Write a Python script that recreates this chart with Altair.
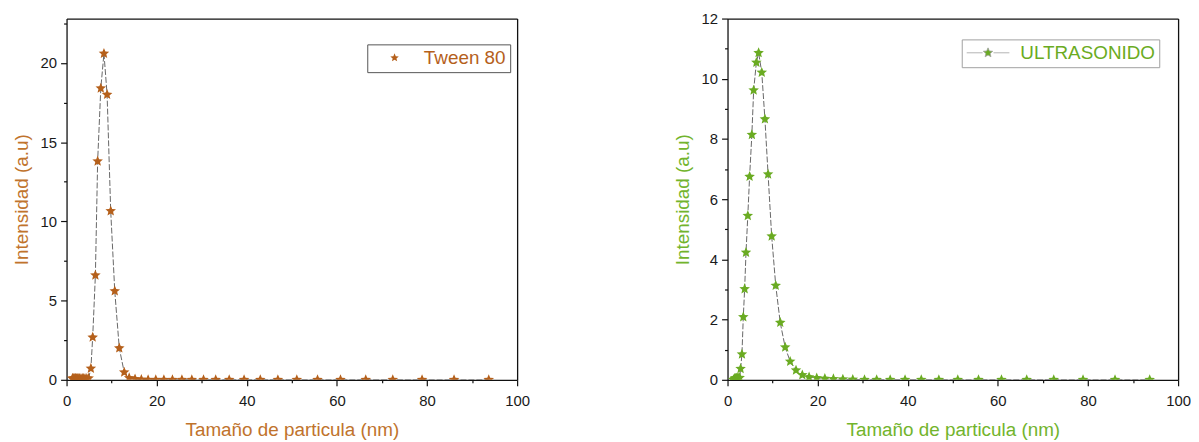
import altair as alt
import pandas as pd

# Particle size bins (nm)
sizes_nm = [1.3, 1.4, 1.6, 1.7, 1.9, 2.0, 2.2, 2.4, 2.7, 2.9, 3.2, 3.5, 3.8, 4.1, 4.5,
            4.9, 5.4, 5.8, 6.4, 6.9, 7.6, 8.3, 9.0, 9.8, 10.7, 11.7, 12.8, 13.9, 15.2,
            16.6, 18.1, 19.8, 21.6, 23.5, 25.6, 27.8, 30.4, 33.1, 36.1, 39.4, 43.0,
            46.9, 51.1, 55.7, 60.8, 66.4, 72.4, 78.9, 86.0, 93.7]

tween80 = [0.08, 0.08, 0.08, 0.08, 0.08, 0.08, 0.08, 0.08, 0.08, 0.08, 0.08, 0.08, 0.08, 0.08, 0.08,
           0.1, 0.72, 2.68, 6.6, 13.8, 18.4, 20.6, 18.0, 10.65, 5.6, 2.0, 0.48, 0.12, 0.05,
           0.02, 0.0, 0.0, 0.0, 0.0, 0.0, 0.0, 0.0, 0.0, 0.0, 0.0, 0.0,
           0.0, 0.0, 0.0, 0.0, 0.0, 0.0, 0.0, 0.0, 0.0]

ultrasonido = [0.0, 0.0, 0.04, 0.05, 0.05, 0.05, 0.06, 0.06, 0.07, 0.37, 0.85, 2.09, 3.02, 4.23, 5.45,
               6.75, 8.14, 9.62, 10.54, 10.86, 10.21, 8.66, 6.83, 4.77, 3.13, 1.9, 1.08, 0.61, 0.32,
               0.16, 0.09, 0.06, 0.04, 0.03, 0.02, 0.01, 0.0, 0.0, 0.0, 0.0, 0.0,
               0.0, 0.0, 0.0, 0.0, 0.0, 0.0, 0.0, 0.0, 0.0]

x_ticks = [0, 20, 40, 60, 80, 100]
x_minor = [10, 30, 50, 70, 90]
y_ticks_left = [0, 5, 10, 15, 20]
y_minor_left = [2.5, 7.5, 12.5, 17.5, 22.5]
y_ticks_right = [0, 2, 4, 6, 8, 10, 12]
y_minor_right = [1, 3, 5, 7, 9, 11]

x_title = "Tamaño de particula (nm)"
y_title = "Intensidad (a.u)"

BROWN = "#b5601b"
BROWN_TXT = "#c0732c"
GREEN = "#6aab22"
GREEN_TXT = "#72b42c"
FONT = "Liberation Sans"

# five-pointed star symbol (unit box -1..1)
STAR = ("M0,-1L0.265,-0.364L0.951,-0.309L0.428,0.139L0.588,0.809L0,0.45"
        "L-0.588,0.809L-0.428,0.139L-0.951,-0.309L-0.265,-0.364Z")
# legend symbol: star on a short line
STAR_LINE = "M-4.3,0L-1.1,0M1.1,0L4.3,0" + STAR

# two panels drawn side by side inside one layered view
PANEL_W, GAP, H = 454, 212, 364
TOTAL_W = 2 * PANEL_W + GAP
RIGHT0 = PANEL_W + GAP


def xs(x0):
    return alt.Scale(domain=[0, 100], range=[x0, x0 + PANEL_W], nice=False, zero=False)


def ys(ymax):
    return alt.Scale(domain=[0, ymax], nice=False)


def panel_layers(values, name, ymax, yticks, yminor, x0, mark_color, txt_color, legend):
    df = pd.DataFrame({"size": sizes_nm, "intensity": values, "serie": name})
    base = alt.Chart(df)
    y_off = -x0  # moves the left y axis to the panel's left edge
    # dashed connecting line; its axes draw the top and right edges of the frame
    line = base.mark_line(color="#555555", strokeWidth=0.9, strokeDash=[6, 2], clip=True).encode(
        x=alt.X("size:Q", scale=xs(x0),
                axis=alt.Axis(orient="top", labels=False, ticks=False, domain=True, grid=False, title=None)),
        y=alt.Y("intensity:Q", scale=ys(ymax),
                axis=alt.Axis(orient="right", offset=-(TOTAL_W - x0 - PANEL_W), labels=False,
                              ticks=False, domain=True, grid=False, title=None)),
    )
    # minor ticks
    minor = base.mark_point(opacity=0, size=1).encode(
        x=alt.X("size:Q", scale=xs(x0),
                axis=alt.Axis(orient="bottom", values=x_minor, labels=False, domain=False,
                              tickSize=3, grid=False, title=None)),
        y=alt.Y("intensity:Q", scale=ys(ymax),
                axis=alt.Axis(orient="left", offset=y_off, values=yminor, labels=False,
                              domain=False, tickSize=3, grid=False, title=None)),
    )
    # star markers with main axes and legend
    pts = base.mark_point(shape=STAR, filled=True, size=125, opacity=1, clip=True).encode(
        x=alt.X("size:Q", scale=xs(x0),
                axis=alt.Axis(orient="bottom", values=x_ticks, tickSize=6, labelFlush=False,
                              labelOverlap=False, labelPadding=8, title=x_title,
                              titleColor=txt_color, titlePadding=12, grid=False)),
        y=alt.Y("intensity:Q", scale=ys(ymax),
                axis=alt.Axis(orient="left", offset=y_off, values=yticks, tickSize=6,
                              labelOverlap=False, labelPadding=4, title=y_title,
                              titleColor=txt_color, titlePadding=9, grid=False)),
        color=alt.Color("serie:N", scale=alt.Scale(domain=[name], range=[mark_color]),
                        legend=alt.Legend(**legend)),
    )
    return [line, minor, pts]


legend_left = dict(
    title=None,
    orient="none",
    legendX=303,
    legendY=26,
    symbolType=STAR,
    symbolSize=80,
    symbolOpacity=1,
    symbolOffset=14,
    labelOffset=20,
    labelFontSize=19,
    labelFont=FONT,
    labelColor=BROWN,
    strokeColor="#555555",
    padding=4,
)

legend_right = dict(
    title=None,
    orient="none",
    legendX=RIGHT0 + 236,
    legendY=21,
    symbolType=STAR_LINE,
    symbolSize=100,
    symbolOpacity=1,
    symbolStrokeColor="#a0a0a0",
    symbolStrokeWidth=0.8,
    symbolOffset=13,
    labelOffset=23,
    labelFontSize=19,
    labelFont=FONT,
    labelColor=GREEN,
    strokeColor="#a0a0a0",
    padding=4,
)

layers = (
    panel_layers(tween80, "Tween 80", 22.8, y_ticks_left, y_minor_left, 0,
                 BROWN, BROWN_TXT, legend_left)
    + panel_layers(ultrasonido, "ULTRASONIDO", 12, y_ticks_right, y_minor_right, RIGHT0,
                   GREEN, GREEN_TXT, legend_right)
)

chart = (
    alt.layer(*layers)
    .resolve_scale(x="independent", y="independent", color="independent")
    .resolve_axis(x="independent", y="independent")
    .properties(width=TOTAL_W, height=H,
                padding={"left": 4, "top": 2, "right": 0, "bottom": 0}, background="white")
    .configure_view(stroke="transparent")
    .configure_axis(
        domainColor="#111111",
        domainWidth=1.3,
        tickColor="#111111",
        tickWidth=1.2,
        labelColor="#1a1a1a",
        labelFont=FONT,
        labelFontSize=15,
        titleFont=FONT,
        titleFontSize=19,
        titleFontWeight="normal",
    )
    .configure_legend(labelFont=FONT)
)

chart.save("out.html", embed_options={"renderer": "svg", "actions": False})
